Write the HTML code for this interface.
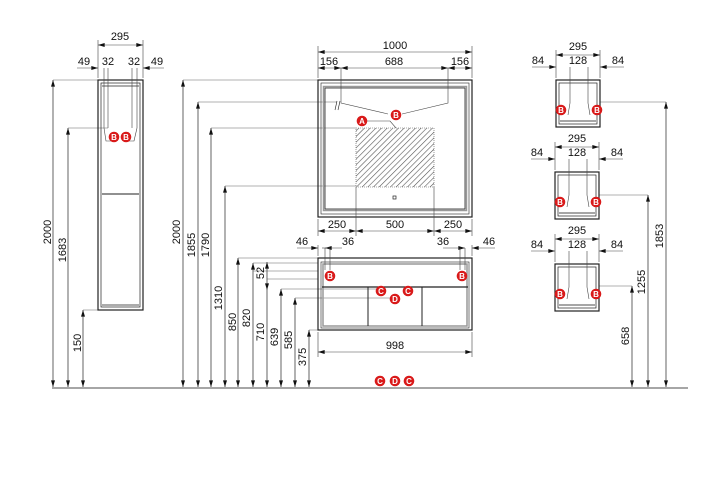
<!DOCTYPE html>
<html><head><meta charset="utf-8">
<style>
html,body{margin:0;padding:0;background:#fff;}
svg{display:block;font-family:"Liberation Sans",sans-serif;}
text{font-size:11px;fill:#111;}
</style></head><body>
<svg width="720" height="478" viewBox="0 0 720 478" xmlns="http://www.w3.org/2000/svg">
<defs>
<marker id="a" viewBox="0 0 10 6" refX="10" refY="3" markerWidth="8" markerHeight="4" orient="auto-start-reverse" markerUnits="userSpaceOnUse"><path d="M0,0L10,3L0,6z" fill="#111"/></marker>
<pattern id="h" width="4" height="4" patternUnits="userSpaceOnUse" patternTransform="rotate(45)"><line x1="0" y1="0" x2="0" y2="4" stroke="#555" stroke-width="1.2"/></pattern>
<g id="cB"><circle r="5.3" fill="#d91a1a"/><text x="0" y="3" text-anchor="middle" style="font-size:8px;font-weight:bold;fill:#fff">B</text></g>
<g id="cC"><circle r="5.3" fill="#d91a1a"/><text x="0" y="3" text-anchor="middle" style="font-size:8px;font-weight:bold;fill:#fff">C</text></g>
<g id="cD"><circle r="5.3" fill="#d91a1a"/><text x="0" y="3" text-anchor="middle" style="font-size:8px;font-weight:bold;fill:#fff">D</text></g>
<g id="cA"><circle r="5.3" fill="#d91a1a"/><text x="0" y="3" text-anchor="middle" style="font-size:8px;font-weight:bold;fill:#fff">A</text></g>
</defs>

<line x1="52" y1="388" x2="688" y2="388" stroke="#888" stroke-width="1.5"/>

<g stroke="#222" stroke-width="0.7" fill="none">
<line x1="53" y1="80" x2="53" y2="387" marker-start="url(#a)" marker-end="url(#a)"/>
<line x1="68" y1="128" x2="68" y2="387" marker-start="url(#a)" marker-end="url(#a)"/>
<line x1="83" y1="310" x2="83" y2="387" marker-start="url(#a)" marker-end="url(#a)"/>
<line x1="183" y1="80" x2="183" y2="387" marker-start="url(#a)" marker-end="url(#a)"/>
<line x1="198" y1="102" x2="198" y2="387" marker-start="url(#a)" marker-end="url(#a)"/>
<line x1="211" y1="128" x2="211" y2="387" marker-start="url(#a)" marker-end="url(#a)"/>
<line x1="225" y1="186" x2="225" y2="387" marker-start="url(#a)" marker-end="url(#a)"/>
<line x1="238" y1="258" x2="238" y2="387" marker-start="url(#a)" marker-end="url(#a)"/>
<line x1="253" y1="263" x2="253" y2="387" marker-start="url(#a)" marker-end="url(#a)"/>
<line x1="267" y1="262" x2="267" y2="290" marker-start="url(#a)" marker-end="url(#a)"/>
<line x1="267" y1="290" x2="267" y2="387" marker-end="url(#a)"/>
<line x1="281" y1="289" x2="281" y2="387" marker-start="url(#a)" marker-end="url(#a)"/>
<line x1="295" y1="298" x2="295" y2="387" marker-start="url(#a)" marker-end="url(#a)"/>
<line x1="309" y1="330" x2="309" y2="387" marker-start="url(#a)" marker-end="url(#a)"/>
<line x1="632" y1="286" x2="632" y2="387" marker-start="url(#a)" marker-end="url(#a)"/>
<line x1="648" y1="195" x2="648" y2="387" marker-start="url(#a)" marker-end="url(#a)"/>
<line x1="666" y1="102" x2="666" y2="387" marker-start="url(#a)" marker-end="url(#a)"/>
</g>
<g stroke="#666" stroke-width="0.6" fill="none">
<path d="M53 80H98M68 128H108M83 310H98"/>
<path d="M183 80H318M198 102H337M211 128H356M225 186H356"/>
<path d="M238 258H318M253 263H318M253 271H318M267 279H318M281 289H380M295 298H395M309 330H318"/>
<path d="M666 102H600M648 195H599M632 286H599"/>
</g>

<g fill="none" stroke="#222">
<rect x="98" y="80" width="45" height="230" stroke-width="1.2"/>
<rect x="101" y="83" width="39" height="224" stroke-width="0.7"/>
<path d="M102 86H139M102 305H139" stroke-width="0.7"/>
<line x1="102" y1="194" x2="139" y2="194" stroke-width="1"/>
</g>
<g stroke="#444" stroke-width="0.6" fill="none">
<path d="M98 78V40M143 78V40"/>
<line x1="98" y1="45" x2="143" y2="45" marker-start="url(#a)" marker-end="url(#a)"/>
<path d="M77 68H98" marker-end="url(#a)"/><path d="M164 68H143" marker-end="url(#a)"/>
<path d="M104 68V128M108 68V128M132 68V128M137 68V128"/>
<path d="M104 128L106 141H112M137 128L134 141H128"/>
</g>
<text x="120" y="40" text-anchor="middle">295</text>
<text x="84" y="65" text-anchor="middle">49</text>
<text x="108" y="65" text-anchor="middle">32</text>
<text x="134" y="65" text-anchor="middle">32</text>
<text x="157" y="65" text-anchor="middle">49</text>
<use href="#cB" x="114" y="137"/><use href="#cB" x="126" y="137"/>
<text transform="translate(51,232) rotate(-90)" text-anchor="middle">2000</text>
<text transform="translate(66,250) rotate(-90)" text-anchor="middle">1683</text>
<text transform="translate(81,343) rotate(-90)" text-anchor="middle">150</text>

<g fill="none" stroke="#222">
<rect x="318" y="80" width="154" height="137" stroke-width="1.2"/>
<rect x="321" y="83" width="148" height="131" stroke-width="0.6"/>
<rect x="323.5" y="86.5" width="143" height="124" stroke="#999" stroke-width="1.5"/>
<rect x="325" y="88" width="140" height="121" stroke-width="0.8"/>
</g>
<rect x="356" y="128" width="78" height="59" fill="url(#h)" stroke="#555" stroke-width="0.6" stroke-dasharray="1,1"/>
<rect x="393" y="196" width="3" height="3" fill="none" stroke="#222" stroke-width="0.7"/>
<g stroke="#444" stroke-width="0.6" fill="none">
<path d="M318 78V46M472 78V46"/>
<line x1="318" y1="52" x2="472" y2="52" marker-start="url(#a)" marker-end="url(#a)"/>
<line x1="318" y1="68" x2="341" y2="68" marker-start="url(#a)" marker-end="url(#a)"/>
<line x1="341" y1="68" x2="448" y2="68" marker-start="url(#a)" marker-end="url(#a)"/>
<line x1="448" y1="68" x2="472" y2="68" marker-start="url(#a)" marker-end="url(#a)"/>
<path d="M341 68V103L388 114M448 68V103L402 114"/>
<path d="M337 101L335 110M340 101L338 110" stroke="#222"/>
<path d="M366 121H390L396 128"/>
<path d="M318 219V236M356 187V236M434 187V236M472 219V236"/>
<line x1="318" y1="231" x2="356" y2="231" marker-start="url(#a)" marker-end="url(#a)"/>
<line x1="356" y1="231" x2="434" y2="231" marker-start="url(#a)" marker-end="url(#a)"/>
<line x1="434" y1="231" x2="472" y2="231" marker-start="url(#a)" marker-end="url(#a)"/>
</g>
<text x="395" y="49" text-anchor="middle">1000</text>
<text x="329" y="65" text-anchor="middle">156</text>
<text x="394" y="65" text-anchor="middle">688</text>
<text x="460" y="65" text-anchor="middle">156</text>
<text x="337" y="228" text-anchor="middle">250</text>
<text x="395" y="228" text-anchor="middle">500</text>
<text x="453" y="228" text-anchor="middle">250</text>
<use href="#cB" x="396" y="115"/><use href="#cA" x="362" y="121"/>
<text transform="translate(180,232) rotate(-90)" text-anchor="middle">2000</text>
<text transform="translate(195,245) rotate(-90)" text-anchor="middle">1855</text>
<text transform="translate(209,245) rotate(-90)" text-anchor="middle">1790</text>
<text transform="translate(222,298) rotate(-90)" text-anchor="middle">1310</text>

<g fill="none" stroke="#222">
<rect x="318" y="258" width="154" height="72" stroke-width="1.2"/>
<rect x="321" y="262" width="148" height="66" stroke-width="0.6"/>
<rect x="323" y="264" width="144" height="62" stroke="#999" stroke-width="1.5"/>
<line x1="322" y1="287" x2="468" y2="287" stroke-width="1.2"/>
<line x1="368" y1="287" x2="368" y2="326" stroke-width="1"/>
<line x1="422" y1="287" x2="422" y2="326" stroke-width="1"/>
</g>
<g stroke="#444" stroke-width="0.6" fill="none">
<path d="M318 256V245M472 256V245"/>
<path d="M297 248H318" marker-end="url(#a)"/><path d="M342 248H325" marker-end="url(#a)"/>
<path d="M322 248H330"/>
<path d="M325 248V270M330 248V270"/>
<path d="M443 248H465" marker-end="url(#a)"/><path d="M495 248H472" marker-end="url(#a)"/>
<path d="M460 248V270M465 248V270"/>
<path d="M318 332V357M472 332V357"/>
<line x1="318" y1="352" x2="472" y2="352" marker-start="url(#a)" marker-end="url(#a)"/>
</g>
<text x="302" y="245" text-anchor="middle">46</text>
<text x="348" y="245" text-anchor="middle">36</text>
<text x="443" y="245" text-anchor="middle">36</text>
<text x="489" y="245" text-anchor="middle">46</text>
<text x="395" y="349" text-anchor="middle">998</text>
<use href="#cB" x="330" y="276"/><use href="#cB" x="462" y="276"/>
<use href="#cC" x="381" y="291"/><use href="#cC" x="408" y="291"/>
<use href="#cD" x="395" y="299"/>
<use href="#cC" x="380" y="381"/><use href="#cD" x="395" y="381"/><use href="#cC" x="409" y="381"/>
<text transform="translate(236,322) rotate(-90)" text-anchor="middle">850</text>
<text transform="translate(250,318) rotate(-90)" text-anchor="middle">820</text>
<text transform="translate(264,273) rotate(-90)" text-anchor="middle">52</text>
<text transform="translate(264,332) rotate(-90)" text-anchor="middle">710</text>
<text transform="translate(278,337) rotate(-90)" text-anchor="middle">639</text>
<text transform="translate(292,340) rotate(-90)" text-anchor="middle">585</text>
<text transform="translate(306,357) rotate(-90)" text-anchor="middle">375</text>

<g id="cube1">
<g fill="none" stroke="#222">
<rect x="556" y="80" width="44" height="47" stroke-width="1.2"/>
<rect x="559" y="83" width="38" height="41" stroke-width="0.7"/>
<path d="M560 121H596" stroke="#888" stroke-width="1.5"/>
</g>
<g stroke="#444" stroke-width="0.6" fill="none">
<path d="M556 78V50M600 78V50"/>
<line x1="556" y1="55" x2="600" y2="55" marker-start="url(#a)" marker-end="url(#a)"/>
<path d="M532 67H556" marker-end="url(#a)"/><path d="M624 67H600" marker-end="url(#a)"/>
<path d="M570 67V103L568 115M588 67V103L590 115"/>
</g>
<text x="578" y="50" text-anchor="middle">295</text>
<text x="538" y="64" text-anchor="middle">84</text>
<text x="578" y="64" text-anchor="middle">128</text>
<text x="618" y="64" text-anchor="middle">84</text>
<use href="#cB" x="561" y="110"/><use href="#cB" x="597" y="110"/>
</g>
<use href="#cube1" x="-1" y="92"/>
<use href="#cube1" x="-1" y="184"/>
<text transform="translate(663,236) rotate(-90)" text-anchor="middle">1853</text>
<text transform="translate(645,282) rotate(-90)" text-anchor="middle">1255</text>
<text transform="translate(629,336) rotate(-90)" text-anchor="middle">658</text>
</svg>
</body></html>
